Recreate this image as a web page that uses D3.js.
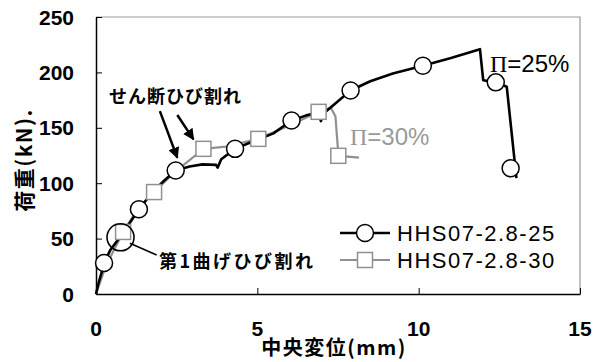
<!DOCTYPE html>
<html>
<head>
<meta charset="utf-8">
<script src="https://cdn.jsdelivr.net/npm/d3@7"></script>
<style>
  body { margin: 0; background: #fff; }
  svg { display: block; }
  .tick-label { font-family: "Liberation Sans", Arial, sans-serif; font-weight: bold; font-size: 21px; }
  .jp { font-family: "Noto Sans CJK JP", sans-serif; font-weight: bold; }
</style>
</head>
<body>
<div id="chart"></div>
<script>
// HHS07-2.8-25 (black, circles)
let blackLine = [
    [0, 0], [0.08, 10], [0.18, 20], [0.25, 28], [0.45, 40], [0.76, 52], [1.0, 62],
    [1.33, 76.5], [1.7, 90], [2.1, 102], [2.47, 111.4], [2.9, 115], [3.3, 117],
    [3.72, 116.5], [3.77, 114], [3.88, 121.6], [4.31, 131], [4.8, 137], [5.5, 145],
    [6.06, 156.6], [6.5, 161], [6.9, 164], [6.97, 156], [7.05, 163], [7.5, 174],
    [7.89, 183.7], [8.5, 192], [9.2, 199], [10.13, 206], [11.0, 213], [11.9, 221],
    [12.0, 193], [12.39, 191], [12.73, 187], [13.03, 104.5]
];
let blackMarks = [
    [0.25, 28], [1.33, 76.5], [2.47, 111.4], [4.31, 131], [6.06, 156.6],
    [7.89, 183.7], [10.13, 206], [12.39, 191], [12.85, 113.5]
];

// HHS07-2.8-30 (gray, squares)
let grayLine = [
    [0, 0], [0.3, 25], [0.84, 56], [1.3, 77], [1.8, 92], [2.3, 106], [2.7, 116],
    [3.33, 131], [4.03, 133], [5.03, 140], [6.06, 153], [6.9, 164.4], [7.28, 168],
    [7.42, 160.5], [7.5, 130], [7.51, 124.7], [8.15, 123]
];
let grayMarks = [
    [0.84, 56], [1.8, 92], [3.33, 131], [5.03, 140], [6.9, 164.4], [7.51, 124.7]
];

let seriesNames = ['HHS07-2.8-25', 'HHS07-2.8-30'];
let xTicks = [0, 5, 10, 15];
let yTicks = [0, 50, 100, 150, 200, 250];

let W = 594, H = 362;
let svg = d3.select('#chart').append('svg')
    .attr('width', W)
    .attr('height', H);

let x = d3.scaleLinear().domain([0, 15]).range([96, 580]);
let y = d3.scaleLinear().domain([0, 250]).range([294, 17]);

let black = '#000';
let gray = '#909090';

// frame (top / right gray)
svg.append('path')
    .attr('d', `M${x(0)},${y(250)}H${x(15)}V${y(0)}`)
    .attr('fill', 'none')
    .attr('stroke', '#999')
    .attr('stroke-width', 1.2);

// axes
let xAxis = svg.append('g')
    .attr('transform', `translate(0,${y(0)})`)
    .call(d3.axisBottom(x).tickValues(xTicks).tickSizeInner(-6).tickSizeOuter(0).tickFormat(''));
let yAxis = svg.append('g')
    .attr('transform', `translate(${x(0)},0)`)
    .call(d3.axisLeft(y).tickValues(yTicks).tickSizeInner(-6).tickSizeOuter(0).tickFormat(''));
[xAxis, yAxis].forEach(g => {
    g.select('.domain').attr('stroke', '#000').attr('stroke-width', 1.5);
    g.selectAll('.tick line').attr('stroke', '#000').attr('stroke-width', 1);
});

svg.selectAll('.xlab')
    .data(xTicks)
    .enter()
    .append('text')
    .attr('class', 'tick-label')
    .attr('x', d => x(d))
    .attr('y', 336)
    .attr('text-anchor', 'middle')
    .text(d => d);

svg.selectAll('.ylab')
    .data(yTicks)
    .enter()
    .append('text')
    .attr('class', 'tick-label')
    .attr('x', 74)
    .attr('y', d => y(d) + 7.5)
    .attr('text-anchor', 'end')
    .text(d => d);

// axis titles
svg.append('text')
    .attr('class', 'jp')
    .attr('x', 334)
    .attr('y', 355)
    .attr('text-anchor', 'middle')
    .style('font-size', '20px')
    .style('letter-spacing', '1.5px')
    .text('中央変位(mm)');

svg.append('text')
    .attr('class', 'jp')
    .attr('transform', 'translate(32,160) rotate(-90)')
    .attr('text-anchor', 'middle')
    .style('font-size', '21px')
    .style('letter-spacing', '1.5px')
    .text('荷重(kN).');

// lines
let line = d3.line().x(d => x(d[0])).y(d => y(d[1]));

svg.append('path')
    .datum(grayLine)
    .attr('d', line)
    .attr('fill', 'none')
    .attr('stroke', gray)
    .attr('stroke-width', 2.2)
    .attr('stroke-linejoin', 'round');

svg.append('path')
    .datum(blackLine)
    .attr('d', line)
    .attr('fill', 'none')
    .attr('stroke', black)
    .attr('stroke-width', 2.6)
    .attr('stroke-linejoin', 'round');

// markers
let sq = 15;
svg.selectAll('.sq')
    .data(grayMarks)
    .enter()
    .append('rect')
    .attr('x', d => x(d[0]) - sq / 2)
    .attr('y', d => y(d[1]) - sq / 2)
    .attr('width', sq)
    .attr('height', sq)
    .attr('fill', '#fff')
    .attr('stroke', gray)
    .attr('stroke-width', 1.5);

svg.selectAll('.circ')
    .data(blackMarks)
    .enter()
    .append('circle')
    .attr('cx', d => x(d[0]))
    .attr('cy', d => y(d[1]))
    .attr('r', 8.5)
    .attr('fill', '#fff')
    .attr('stroke', black)
    .attr('stroke-width', 1.5);

// * ANNOTATIONS * //
svg.append('defs').append('marker')
    .attr('id', 'arrow')
    .attr('viewBox', '0 0 10 10')
    .attr('refX', 9)
    .attr('refY', 5)
    .attr('markerWidth', 4.5)
    .attr('markerHeight', 4.5)
    .attr('orient', 'auto')
    .append('path')
    .attr('d', 'M0,0L10,5L0,10z')
    .attr('fill', '#000');

let arrows = [
    [[1.98, 165], [2.52, 123]],
    [[2.52, 161.5], [3.02, 139.6]]
];
arrows.forEach(a => {
    svg.append('line')
        .attr('x1', x(a[0][0])).attr('y1', y(a[0][1]))
        .attr('x2', x(a[1][0])).attr('y2', y(a[1][1]))
        .attr('stroke', '#000')
        .attr('stroke-width', 2.5)
        .attr('marker-end', 'url(#arrow)');
});

svg.append('text')
    .attr('class', 'jp')
    .attr('x', 109)
    .attr('y', 103)
    .style('font-size', '18px')
    .style('letter-spacing', '1px')
    .text('せん断ひび割れ');

// first flexural crack
svg.append('circle')
    .attr('cx', x(0.76))
    .attr('cy', y(51.2))
    .attr('r', 13.5)
    .attr('fill', 'none')
    .attr('stroke', '#000')
    .attr('stroke-width', 1.6);
svg.append('line')
    .attr('x1', x(1.05)).attr('y1', y(45.8))
    .attr('x2', x(1.88)).attr('y2', y(35.2))
    .attr('stroke', '#000')
    .attr('stroke-width', 1.5);
svg.append('text')
    .attr('class', 'jp')
    .attr('x', 159)
    .attr('y', 268)
    .style('font-size', '18px')
    .style('letter-spacing', '2.5px')
    .text('第1曲げひび割れ');

// Π labels
function piLabel(px, py, val, col) {
    let t = svg.append('text')
        .attr('x', px)
        .attr('y', py)
        .attr('fill', col)
        .style('font-size', '24px');
    t.append('tspan').style('font-family', '"Liberation Serif", serif').text('Π');
    t.append('tspan').style('font-family', '"Liberation Sans", Arial, sans-serif').text('=' + val);
}
piLabel(490, 72, '25%', '#000');
piLabel(350, 145, '30%', '#999');

// * LEGEND * //
let leg = svg.append('g');
seriesNames.forEach((name, i) => {
    let ly = 233 + i * 27;
    let col = i == 0 ? black : gray;
    leg.append('line')
        .attr('x1', 340).attr('x2', 390)
        .attr('y1', ly).attr('y2', ly)
        .attr('stroke', col)
        .attr('stroke-width', i == 0 ? 2.4 : 2);
    if (i == 0) {
        leg.append('circle')
            .attr('cx', 365).attr('cy', ly).attr('r', 8.5)
            .attr('fill', '#fff').attr('stroke', col).attr('stroke-width', 1.5);
    } else {
        leg.append('rect')
            .attr('x', 365 - sq / 2).attr('y', ly - sq / 2)
            .attr('width', sq).attr('height', sq)
            .attr('fill', '#fff').attr('stroke', col).attr('stroke-width', 1.5);
    }
    leg.append('text')
        .attr('x', 397)
        .attr('y', ly + 8)
        .style('font-family', '"Liberation Sans", Arial, sans-serif')
        .style('font-size', '22px')
        .style('letter-spacing', '1.5px')
        .text(name);
});
</script>
</body>
</html>
